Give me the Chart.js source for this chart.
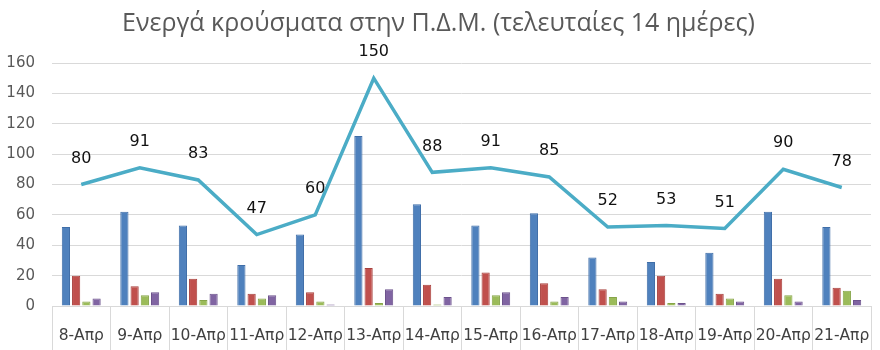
<!DOCTYPE html>
<html>
<head>
<meta charset="utf-8">
<script src="https://cdn.jsdelivr.net/npm/chart.js@4"></script>
<style>
  body { margin: 0; background: #fff; }
  #wrap { width: 880px; height: 350px; }
</style>
</head>
<body>
<div id="wrap"><canvas id="myChart"></canvas></div>
<script>
const labels = ['8-Απρ', '9-Απρ', '10-Απρ', '11-Απρ', '12-Απρ', '13-Απρ', '14-Απρ', '15-Απρ', '16-Απρ', '17-Απρ', '18-Απρ', '19-Απρ', '20-Απρ', '21-Απρ'];
const blueVals = [52, 62, 53, 27, 47, 112, 67, 53, 61, 32, 29, 35, 62, 52];
const redVals = [20, 13, 18, 8, 9, 25, 14, 22, 15, 11, 20, 8, 18, 12];
const greenVals = [3, 7, 4, 5, 3, 2, 1, 7, 3, 6, 2, 5, 7, 10];
const purpleVals = [5, 9, 8, 7, 1, 11, 6, 9, 6, 3, 2, 3, 3, 4];
const totalVals = [80, 91, 83, 47, 60, 150, 88, 91, 85, 52, 53, 51, 90, 78];
const yTicks = [0, 20, 40, 60, 80, 100, 120, 140, 160];

// numbers above the line points
const lineLabels = {
    id: 'lineLabels',
    afterDatasetsDraw(chart) {
        const c = chart.ctx;
        const meta = chart.getDatasetMeta(0);
        c.save();
        c.font = '16px "DejaVu Sans"';
        c.fillStyle = '#111';
        c.textAlign = 'center';
        c.textBaseline = 'middle';
        meta.data.forEach((pt, i) => {
            c.fillText(totalVals[i], pt.x, pt.y - 26);
        });
        c.restore();
    }
};

const ctx = document.getElementById('myChart').getContext('2d');

const myChart = new Chart(ctx, {
    type: 'bar',
    data: {
        labels: labels,
        datasets: [
            {
                type: 'line',
                data: totalVals,
                borderColor: '#4BACC6',
                borderWidth: 3.5,
                pointRadius: 0,
                tension: 0,
                order: 0
            },
            { data: blueVals, backgroundColor: '#4F81BD', borderColor: '#3f6ea8', borderWidth: 1, order: 1 },
            { data: redVals, backgroundColor: '#C0504D', borderColor: '#a8403d', borderWidth: 1, order: 1 },
            { data: greenVals, backgroundColor: '#9BBB59', borderColor: '#86a548', borderWidth: 1, order: 1 },
            { data: purpleVals, backgroundColor: '#8064A2', borderColor: '#6c528c', borderWidth: 1, order: 1 }
        ]
    },
    options: {
        responsive: true,
        maintainAspectRatio: false,
        animation: false,
        categoryPercentage: 0.7,
        barPercentage: 0.8,
        layout: { padding: { left: 6, right: 9, top: 0, bottom: 0 } },
        plugins: {
            legend: { display: false },
            tooltip: { enabled: false },
            title: {
                display: true,
                text: 'Ενεργά κρούσματα στην Π.Δ.Μ. (τελευταίες 14 ημέρες)',
                color: '#595959',
                font: { family: '"Open Sans"', size: 25, weight: 'normal' },
                padding: { top: 9, bottom: 24 }
            }
        },
        scales: {
            x: {
                afterFit: (axis) => { axis.height = 44; axis.paddingLeft = 0; axis.paddingRight = 0; },
                grid: {
                    offset: true,
                    drawOnChartArea: false,
                    tickLength: 44,
                    color: '#d9d9d9'
                },
                border: { color: '#d9d9d9' },
                ticks: {
                    padding: -23,
                    color: '#404040',
                    font: { family: '"DejaVu Sans"', size: 15.5 },
                    maxRotation: 0,
                    autoSkip: false
                }
            },
            y: {
                afterFit: (axis) => { axis.width = 46; },
                min: 0,
                max: 160,
                afterBuildTicks: (axis) => { axis.ticks = yTicks.map(v => ({ value: v })); },
                grid: { color: '#d9d9d9', drawTicks: false },
                border: { display: false },
                ticks: {
                    padding: 17,
                    color: '#595959',
                    font: { family: '"DejaVu Sans"', size: 15 }
                }
            }
        }
    },
    plugins: [lineLabels]
});
</script>
</body>
</html>
